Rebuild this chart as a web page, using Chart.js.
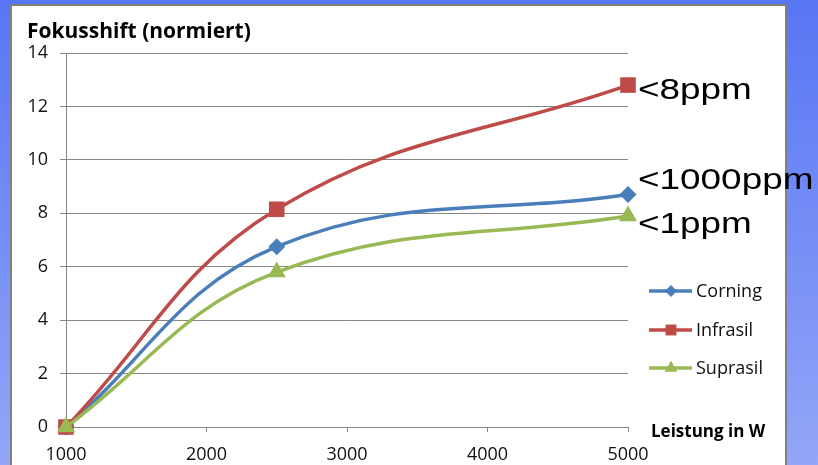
<!DOCTYPE html>
<html lang="de">
<head>
<meta charset="utf-8">
<title>Fokusshift</title>
<script src="https://cdn.jsdelivr.net/npm/chart.js@4/dist/chart.umd.min.js"></script>
<style>
  html, body {
    margin: 0;
    padding: 0;
    width: 818px;
    height: 465px;
    overflow: hidden;
    background: linear-gradient(180deg, #5876f4 0%, #7890f6 55%, #93a6f7 100%);
  }
  #panel {
    position: absolute;
    left: 10px;
    top: 4px;
    width: 773px;
    height: 480px;
    background: #fff;
    border: 2px solid #808080;
  }
  #chart {
    position: absolute;
    left: 0;
    top: 0;
  }
</style>
</head>
<body>
<div id="panel"></div>
<canvas id="chart" width="818" height="465"></canvas>
<script>
const powerW = [1000, 2500, 5000];
const corning = [0, 6.75, 8.7];
const infrasil = [0, 8.15, 12.8];
const suprasil = [0, 5.8, 7.9];
const seriesNames = ['Corning', 'Infrasil', 'Suprasil'];
const seriesNotes = ['<1000ppm', '<8ppm', '<1ppm'];

const COLORS = ['#4a7ebb', '#be4b48', '#98b954'];
const MARKERS = [
  { style: 'rectRot', radius: 8.5 },
  { style: 'rect', radius: 11 },
  { style: 'triangle', radius: 10.5 }
];
const LABEL_FONT = '"Open Sans", Lato, sans-serif';

// where the ppm notes sit, in axis units
const noteAnchors = [
  { x: 5000, y: 9.22 },
  { x: 5000, y: 12.57 },
  { x: 5000, y: 7.57 }
];

function toPoints(values) {
  return values.map((v, i) => ({ x: powerW[i], y: v }));
}

const datasets = [corning, infrasil, suprasil].map((values, i) => ({
  label: seriesNames[i],
  data: toPoints(values),
  borderColor: COLORS[i],
  backgroundColor: COLORS[i],
  borderWidth: 3.5,
  pointStyle: MARKERS[i].style,
  pointRadius: MARKERS[i].radius,
  pointBorderWidth: 0,
  tension: 0.4,
  clip: false,
  order: 3 - i
}));

const extrasPlugin = {
  id: 'extras',
  afterDraw(chart) {
    const { ctx, scales } = chart;
    ctx.save();

    // y axis title, written horizontally above the axis
    ctx.fillStyle = '#000';
    ctx.font = 'bold 21px ' + LABEL_FONT;
    ctx.textAlign = 'left';
    ctx.textBaseline = 'middle';
    ctx.fillText('Fokusshift (normiert)', 27, 32);

    // x axis title at the right end of the axis
    ctx.font = 'bold 17px ' + LABEL_FONT;
    ctx.fillText('Leistung in W', 651, 432);

    // ppm notes next to the last points, a little wide
    ctx.font = '30px "Liberation Sans", Arial, sans-serif';
    noteAnchors.forEach((a, i) => {
      const x = scales.x.getPixelForValue(a.x) + 10;
      const y = scales.y.getPixelForValue(a.y);
      ctx.save();
      ctx.translate(x, y);
      ctx.scale(1.23, 1);
      ctx.fillText(seriesNotes[i], 0, 0);
      ctx.restore();
    });

    // legend: line sample with marker, then the name
    const legendRows = [291, 330, 368];
    ctx.font = '18px ' + LABEL_FONT;
    datasets.forEach((ds, i) => {
      const y = legendRows[i];
      ctx.strokeStyle = ds.borderColor;
      ctx.lineWidth = 3.5;
      ctx.beginPath();
      ctx.moveTo(649, y);
      ctx.lineTo(692, y);
      ctx.stroke();
      ctx.fillStyle = ds.backgroundColor;
      Chart.helpers.drawPoint(ctx, {
        pointStyle: ds.pointStyle,
        radius: ds.pointRadius * 0.7,
        borderWidth: 0,
        rotation: 0
      }, 671, y);
      ctx.fillStyle = '#111';
      ctx.fillText(ds.label, 696, y + 1);
    });

    ctx.restore();
  }
};

new Chart(document.getElementById('chart'), {
  type: 'line',
  data: { datasets },
  options: {
    responsive: false,
    animation: false,
    devicePixelRatio: 1,
    layout: {
      padding: { top: 53, right: 190, bottom: 0, left: 0 }
    },
    plugins: {
      legend: { display: false },
      tooltip: { enabled: false },
      title: { display: false }
    },
    scales: {
      x: {
        type: 'linear',
        min: 1000,
        max: 5000,
        afterFit: (scale) => { scale.height = 38; },
        ticks: {
          stepSize: 1000,
          color: '#111',
          padding: 12,
          maxRotation: 0,
          callback: (value) => String(value),
          font: { family: LABEL_FONT, size: 18 }
        },
        grid: {
          drawOnChartArea: false,
          drawTicks: true,
          tickLength: 5,
          color: '#868686'
        },
        border: { color: '#868686', width: 1 }
      },
      y: {
        min: 0,
        max: 14,
        afterFit: (scale) => { scale.width = 66; },
        ticks: {
          stepSize: 2,
          color: '#111',
          padding: 12,
          font: { family: LABEL_FONT, size: 18 }
        },
        grid: {
          color: '#868686',
          lineWidth: 1,
          tickLength: 6
        },
        border: { color: '#868686', width: 1 }
      }
    }
  },
  plugins: [extrasPlugin]
});
</script>
</body>
</html>
